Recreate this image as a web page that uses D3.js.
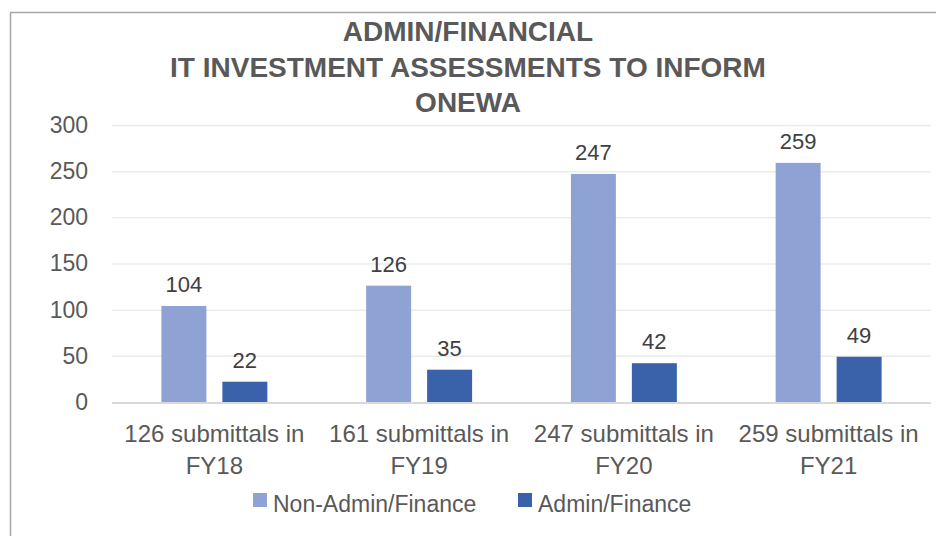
<!DOCTYPE html>
<html>
<head>
<meta charset="utf-8">
<script src="https://cdn.jsdelivr.net/npm/d3@7"></script>
<style>
  html, body { margin: 0; padding: 0; background: #fff; }
  svg { display: block; font-family: "Liberation Sans", Arial, sans-serif; }
</style>
</head>
<body>
<svg id="chart" width="936" height="536"></svg>
<script>
// Submittal groups per fiscal year (two-line category labels)
const categories = [
  ["126 submittals in", "FY18"],
  ["161 submittals in", "FY19"],
  ["247 submittals in", "FY20"],
  ["259 submittals in", "FY21"]
];
const seriesNames = ["Non-Admin/Finance", "Admin/Finance"];
const nonAdminValues = [104, 126, 247, 259];
const adminValues = [22, 35, 42, 49];
const yTicks = [0, 50, 100, 150, 200, 250, 300];
const titleLines = ["ADMIN/FINANCIAL", "IT INVESTMENT ASSESSMENTS TO INFORM", "ONEWA"];

const colors = { "Non-Admin/Finance": "#8fa2d4", "Admin/Finance": "#3a62aa" };
const rows = categories.map((c, i) => ({
  key: c.join(" "),
  lines: c,
  values: { "Non-Admin/Finance": nonAdminValues[i], "Admin/Finance": adminValues[i] }
}));

const svg = d3.select("#chart");

// Chart frame
svg.append("path")
  .attr("d", "M10.5,536 V12.5 H936")
  .attr("fill", "none")
  .attr("stroke", "#a6a6a6")
  .attr("stroke-width", 1.5);

// Title
svg.append("g").selectAll("text")
  .data(titleLines)
  .join("text")
  .attr("x", 468)
  .attr("y", (d, i) => 41 + i * 35.5)
  .attr("text-anchor", "middle")
  .attr("font-size", 28)
  .attr("font-weight", "bold")
  .attr("fill", "#595959")
  .text(d => d);

const x = d3.scaleBand().domain(rows.map(r => r.key)).range([112, 931]);
const x1 = d3.scaleBand().domain(seriesNames).range([0, x.bandwidth()])
  .paddingInner(16 / 61).paddingOuter(0.81);
const y = d3.scaleLinear().domain([0, 300]).range([402, 125]);

// Gridlines
svg.append("g").selectAll("line")
  .data(yTicks.filter(t => t > 0))
  .join("line")
  .attr("x1", 112).attr("x2", 931)
  .attr("y1", d => y(d) + 0.5).attr("y2", d => y(d) + 0.5)
  .attr("stroke", "#ebebeb")
  .attr("stroke-width", 1.5);

// Y axis labels
const yAxis = svg.append("g")
  .attr("transform", "translate(112,0)")
  .call(d3.axisLeft(y).tickValues(yTicks).tickSize(0).tickPadding(24));
yAxis.select(".domain").remove();
yAxis.selectAll("text")
  .attr("font-family", "Liberation Sans, Arial, sans-serif")
  .attr("font-size", 23)
  .attr("fill", "#595959");

// Bars
const groups = svg.append("g").selectAll("g")
  .data(rows)
  .join("g")
  .attr("transform", d => `translate(${x(d.key)},0)`);

groups.selectAll("rect")
  .data(d => seriesNames.map(s => ({ s, v: d.values[s] })))
  .join("rect")
  .attr("x", d => x1(d.s))
  .attr("width", x1.bandwidth())
  .attr("y", d => y(d.v))
  .attr("height", d => y(0) - y(d.v))
  .attr("fill", d => colors[d.s]);

// Value labels
groups.selectAll("text.value")
  .data(d => seriesNames.map(s => ({ s, v: d.values[s] })))
  .join("text")
  .attr("class", "value")
  .attr("x", d => x1(d.s) + x1.bandwidth() / 2)
  .attr("y", d => y(d.v) - 14)
  .attr("text-anchor", "middle")
  .attr("font-size", 22)
  .attr("fill", "#404040")
  .text(d => d.v);

// Baseline
svg.append("line")
  .attr("x1", 112).attr("x2", 931)
  .attr("y1", y(0) + 1).attr("y2", y(0) + 1)
  .attr("stroke", "#d9d9d9")
  .attr("stroke-width", 2);

// Category labels
const xAxis = svg.append("g");
rows.forEach(r => {
  const t = xAxis.append("text")
    .attr("x", x(r.key) + x.bandwidth() / 2)
    .attr("y", 442)
    .attr("text-anchor", "middle")
    .attr("font-size", 24)
    .attr("fill", "#595959");
  r.lines.forEach((line, i) => {
    t.append("tspan")
      .attr("x", x(r.key) + x.bandwidth() / 2)
      .attr("dy", i === 0 ? 0 : 32)
      .text(line);
  });
});

// Legend
const legendItems = [
  { name: seriesNames[0], x: 253 },
  { name: seriesNames[1], x: 518 }
];
const legend = svg.append("g").selectAll("g")
  .data(legendItems)
  .join("g")
  .attr("transform", d => `translate(${d.x},493)`);
legend.append("rect")
  .attr("width", 14).attr("height", 14)
  .attr("fill", d => colors[d.name]);
legend.append("text")
  .attr("x", 20).attr("y", 19)
  .attr("font-size", 23)
  .attr("fill", "#595959")
  .text(d => d.name);
</script>
</body>
</html>
